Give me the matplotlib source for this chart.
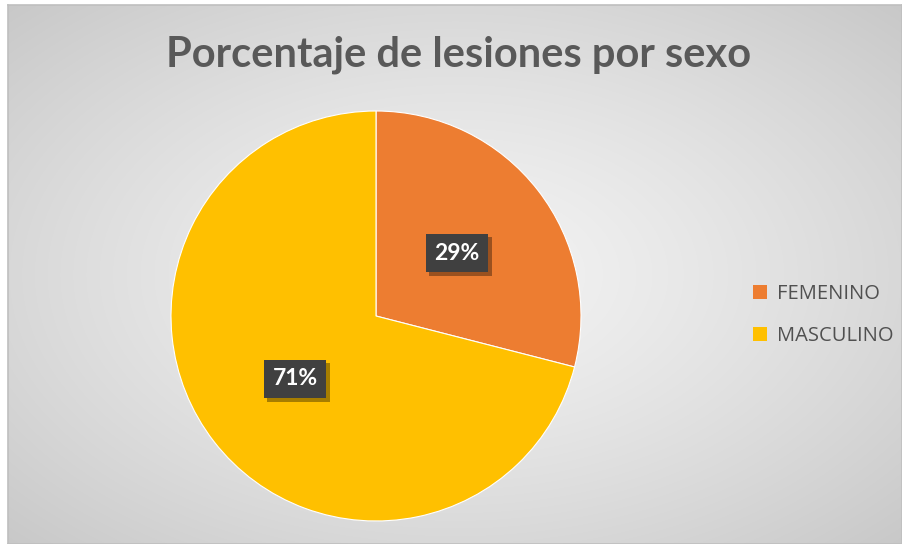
import numpy as np
import matplotlib
matplotlib.use("Agg")
import matplotlib.pyplot as plt
import matplotlib.patheffects as pe

# Data
categories = ["FEMENINO", "MASCULINO"]
values = [29, 71]
colors = ["#ED7D31", "#FFC000"]
title = "Porcentaje de lesiones por sexo"

W, H = 902, 544
fig = plt.figure(figsize=(W / 100, H / 100), dpi=100)
fig.patch.set_facecolor("white")

# Radial gradient background (chart area)
bg = fig.add_axes([8 / W, 0, 1 - 8 / W, 1 - 5 / H])
yy, xx = np.mgrid[0:H, 0:W]
cx, cy = W / 2, H / 2
r = np.sqrt(((xx - cx) / (W / 2)) ** 2 + ((yy - cy) / (H / 2)) ** 2) / np.sqrt(2)
shade = 0.955 - 0.17 * np.clip(r, 0, 1) ** 1.3
bg.imshow(np.dstack([shade] * 3), aspect="auto", extent=[0, 1, 0, 1])
bg.set_xticks([])
bg.set_yticks([])
for s in bg.spines.values():
    s.set_edgecolor("#bfbfbf")
    s.set_linewidth(1.2)

# Pie
cxp, cyp, rad = 376, 316, 205
ax = fig.add_axes([(cxp - rad) / W, 1 - (cyp + rad) / H, 2 * rad / W, 2 * rad / H])
wedges, texts, autotexts = ax.pie(
    values, colors=colors, startangle=90, counterclock=False,
    autopct="%1.0f%%", pctdistance=0.5,
    wedgeprops=dict(edgecolor="white", linewidth=0.8),
    textprops=dict(color="white", fontsize=16.5, fontweight="bold", family="Lato"),
)
for t in autotexts:
    t.set_bbox(dict(boxstyle="square,pad=0.38", facecolor="#404040", edgecolor="none"))
    t.get_bbox_patch().set_path_effects([
        pe.SimplePatchShadow(offset=(2.5, -2.5), shadow_rgbFace="black", alpha=0.35),
        pe.Normal(),
    ])
ax.set_xlim(-1, 1)
ax.set_ylim(-1, 1)
ax.set_aspect("equal")

# Title
fig.text(459 / W, 1 - 55 / H, title, ha="center", va="center",
         fontsize=30, fontweight="bold", color="#595959", family="Lato")

# Legend
handles = [plt.Rectangle((0, 0), 1, 1, facecolor=c) for c in colors]
leg = fig.legend(handles, categories, loc="center left",
                 bbox_to_anchor=(735 / W, 1 - 315 / H), frameon=False,
                 handlelength=0.7, handleheight=0.7,
                 handletextpad=0.5, labelspacing=1.1, labelcolor="#505050",
                 prop=dict(family="Open Sans", size=14.5))

fig.savefig("out.png", dpi=100)
